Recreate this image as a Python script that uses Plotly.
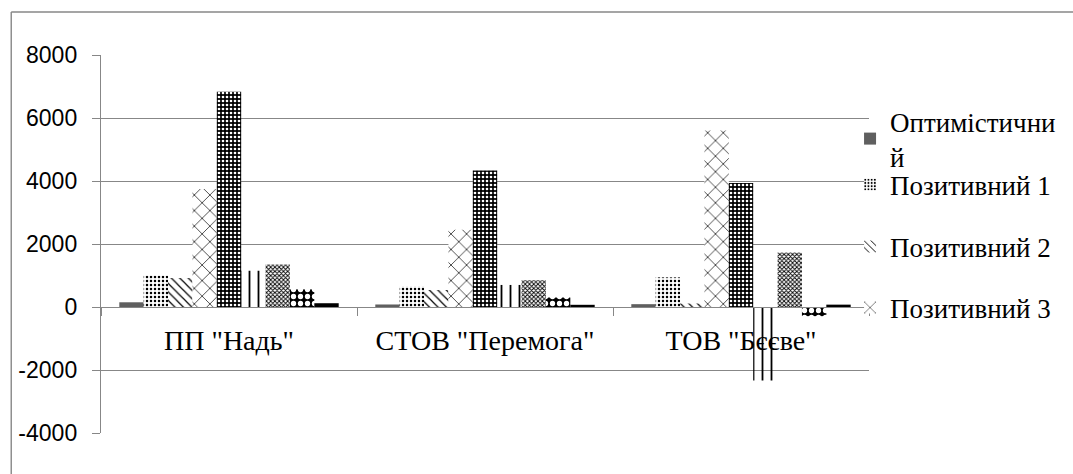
import plotly.graph_objects as go

categories = ['ПП "Надь"', 'СТОВ "Перемога"', 'ТОВ "Бєєве"']

series_names = [
    "Оптимістичний",
    "Позитивний 1",
    "Позитивний 2",
    "Позитивний 3",
    "Позитивний 4",
    "Нейтральний",
    "Негативний 1",
    "Негативний 2",
    "Песимістичний",
]
legend_labels = ["Оптимістични<br>й", "Позитивний 1", "Позитивний 2", "Позитивний 3"]

y_tick_values = [-4000, -2000, 0, 2000, 4000, 6000, 8000]
y_tick_labels = ["-4000", "-2000", "0", "2000", "4000", "6000", "8000"]

optymistychnyi = [150, 80, 90]
pozytyvnyi_1 = [1000, 650, 940]
pozytyvnyi_2 = [920, 540, 110]
pozytyvnyi_3 = [3750, 2450, 5600]
pozytyvnyi_4 = [6830, 4330, 3940]
neitralnyi = [1150, 700, -2330]
nehatyvnyi_1 = [1350, 850, 1730]
nehatyvnyi_2 = [560, 300, -290]
pesymistychnyi = [120, 70, 75]

values = [optymistychnyi, pozytyvnyi_1, pozytyvnyi_2, pozytyvnyi_3, pozytyvnyi_4,
          neitralnyi, nehatyvnyi_1, nehatyvnyi_2, pesymistychnyi]

styles = [
    dict(color="#5f5f5f"),
    dict(color="white", pattern=dict(shape=".", fgcolor="black", bgcolor="white", size=4, solidity=0.3, fillmode="replace")),
    dict(color="white", pattern=dict(shape="\\", fgcolor="black", bgcolor="white", size=6, solidity=0.2, fillmode="replace")),
    dict(color="white", pattern=dict(shape="x", fgcolor="black", bgcolor="white", size=11, solidity=0.12, fillmode="replace")),
    dict(color="black", pattern=dict(shape=".", fgcolor="white", bgcolor="black", size=4, solidity=0.35, fillmode="replace")),
    dict(color="rgba(0,0,0,0)", pattern=dict(shape="|", fgcolor="black", bgcolor="rgba(0,0,0,0)", size=9, solidity=0.2, fillmode="replace")),
    dict(color="white", pattern=dict(shape="x", fgcolor="black", bgcolor="white", size=3, solidity=0.5, fillmode="replace")),
    dict(color="black", pattern=dict(shape=".", fgcolor="white", bgcolor="black", size=7, solidity=0.45, fillmode="replace")),
    dict(color="black"),
]

W, H = 1073, 474
L, R, T, B = 101, 202, 55, 41
plot_h = H - T - B
plot_w = W - L - R

def py(pix):
    return (H - B - pix) / plot_h

def px(pix):
    return (pix - L) / plot_w

fig = go.Figure()
legend_ids = ["legend", "legend2", "legend3", "legend4"]
for i, (name, vals, st) in enumerate(zip(series_names, values, styles)):
    marker = dict(line=dict(width=0), **st)
    tr = dict(x=categories, y=vals, name=name, marker=marker)
    if i < 4:
        tr["name"] = legend_labels[i]
        tr["legend"] = legend_ids[i]
        tr["showlegend"] = True
    else:
        tr["showlegend"] = False
    fig.add_trace(go.Bar(**tr))

legend_font = dict(family="Liberation Serif, Times New Roman, serif", size=27, color="black")
legend_y = [139, 185, 247, 308]
leg_x = px(852)
for lid, yc in zip(legend_ids, legend_y):
    fig.update_layout(**{lid: dict(x=leg_x, xanchor="left", y=py(yc), yanchor="middle",
                                   bgcolor="rgba(0,0,0,0)", font=legend_font,
                                   borderwidth=0, itemwidth=30)})

grid = "#878787"
fig.update_layout(
    width=W, height=H,
    margin=dict(l=L, r=R, t=T, b=B),
    paper_bgcolor="white", plot_bgcolor="white",
    barmode="group", bargap=0.143, bargroupgap=0,
    xaxis=dict(type="category", anchor="free", position=1/3,
               showline=True, linecolor=grid, linewidth=1.4,
               ticks="outside", tickson="boundaries", ticklen=8, tickcolor=grid, tickwidth=1.4,
               showgrid=False, ticklabelstandoff=8,
               tickfont=dict(family="Liberation Serif, Times New Roman, serif", size=28, color="black")),
    yaxis=dict(range=[-4000, 8000], tickmode="array", tickvals=y_tick_values, ticktext=y_tick_labels,
               showgrid=True, gridcolor=grid, gridwidth=1.4,
               zeroline=True, zerolinecolor=grid, zerolinewidth=1.4,
               showline=True, linecolor=grid, linewidth=1.4,
               ticks="outside", ticklen=8, tickcolor=grid, tickwidth=1.4,
               ticklabelstandoff=10,
               tickfont=dict(family="Liberation Sans, Arial, sans-serif", size=23, color="black")),
    shapes=[
        dict(type="line", xref="paper", yref="paper", x0=px(11), x1=px(11), y0=py(480), y1=py(12),
             line=dict(color=grid, width=1.4)),
        dict(type="line", xref="paper", yref="paper", x0=px(11), x1=px(1080), y0=py(12), y1=py(12),
             line=dict(color=grid, width=1.4)),
    ],
)

fig.write_html("out.html")
